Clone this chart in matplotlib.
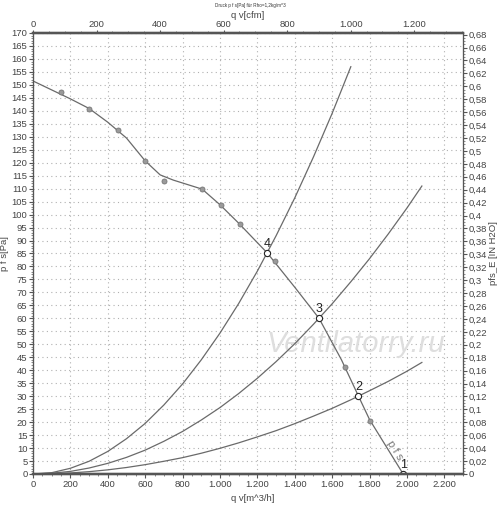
import numpy as np
import matplotlib.pyplot as plt
from matplotlib.ticker import MultipleLocator, FuncFormatter

plt.rcParams['font.family'] = ['Liberation Sans', 'DejaVu Sans']

# fan curve p f s [Pa] vs q v [m^3/h]
fan_q = [0, 200, 300, 400, 500, 600, 680, 750, 905, 1000, 1100, 1253, 1400, 1530, 1650, 1741, 1800, 1980]
fan_p = [151.5, 144.6, 140.9, 135.6, 129.5, 120.7, 115.3, 113.3, 109.8, 103.8, 96.7, 85.2, 72, 60, 44, 30, 21, 0]

# measured points on the fan curve
meas_q = [150, 302, 452, 600, 702, 905, 1003, 1105, 1296, 1668, 1800]
meas_p = [147.1, 140.8, 132.6, 120.7, 113.0, 109.8, 103.6, 96.4, 82.2, 41.3, 20.6]

# system curves
sys4_q = [0, 100, 200, 300, 400, 500, 600, 700, 800, 900, 1000, 1100, 1200, 1300, 1400, 1500, 1600, 1700]
sys4_p = [0, 0.5, 2.2, 4.9, 8.7, 13.6, 19.5, 26.6, 34.7, 44, 54.3, 65.7, 78.2, 91.8, 106.4, 122.2, 139, 157]
sys3_q = [0, 100, 200, 300, 400, 500, 600, 700, 800, 900, 1000, 1100, 1200, 1300, 1400, 1500, 1600, 1700, 1800, 1900, 2000, 2080]
sys3_p = [0, 0.3, 1.0, 2.3, 4.1, 6.4, 9.2, 12.6, 16.4, 20.8, 25.6, 31, 36.9, 43.3, 50.2, 57.7, 65.6, 74.1, 83, 92.5, 102.5, 111]
sys2_q = [0, 100, 200, 300, 400, 500, 600, 700, 800, 900, 1000, 1100, 1200, 1300, 1400, 1500, 1600, 1700, 1800, 1900, 2000, 2080]
sys2_p = [0, 0.1, 0.4, 0.9, 1.6, 2.5, 3.6, 4.9, 6.3, 8.0, 9.9, 12, 14.3, 16.7, 19.4, 22.3, 25.3, 28.6, 32.1, 35.7, 39.6, 43]

# operating points
op_labels = ['1', '2', '3', '4']
op_q = [1980, 1741, 1530, 1253]
op_p = [0, 30, 60, 85.2]

QMAX = 2300
PMAX = 170
CFM = 1.699      # m^3/h per cfm
INH2O = 249.089  # Pa per inch H2O

fig = plt.figure(figsize=(5, 5.05), dpi=100)
ax = fig.add_axes([0.066, 0.0614, 0.86, 0.8733])
ax.set_xlim(0, QMAX)
ax.set_ylim(0, PMAX)

line_c = '#6a6a6a'
txt_c = '#444444'
fs = 6.8

ax.text(1725, 50, 'Ventilatorry.ru', fontsize=21, style='italic', color='#dedede',
        ha='center', va='center', zorder=1)
ax.plot(fan_q, fan_p, color=line_c, lw=0.9, zorder=3)
ax.scatter(meas_q, meas_p, s=13, color='#9a9a9a', edgecolors='#777777', linewidths=0.6, zorder=4)
for q, p in [(sys4_q, sys4_p), (sys3_q, sys3_p), (sys2_q, sys2_p)]:
    ax.plot(q, p, color=line_c, lw=0.9, zorder=2)
ax.scatter(op_q, op_p, s=20, facecolor='white', edgecolors='#222222', linewidths=0.8, zorder=5)
for lab, q, p in zip(op_labels, op_q, op_p):
    ax.text(q, p + 1.3, lab, ha='center', va='bottom', fontsize=9, color='#222222', zorder=6)

ax.text(1935, 9, 'p f s', rotation=-58, fontsize=8, color='#777777', ha='center', va='center')

# grid
ax.xaxis.set_major_locator(MultipleLocator(200))
ax.yaxis.set_major_locator(MultipleLocator(5))
ax.yaxis.set_minor_locator(MultipleLocator(1))
ax.xaxis.set_minor_locator(MultipleLocator(50))
ax.grid(True, which='major', color='#b0b0b0', linestyle=(0, (1, 3)), lw=0.8)
ax.set_axisbelow(True)

ax.xaxis.set_major_formatter(FuncFormatter(lambda v, pos: f"{int(round(v)):,}".replace(',', '.')))
ax.tick_params(axis='both', which='major', labelsize=fs, length=3, pad=1, colors='#555555', labelcolor=txt_c)
ax.tick_params(axis='both', which='minor', length=1.5, colors='#777777')
for s in ax.spines.values():
    s.set_color('#555555')
ax.spines['bottom'].set_linewidth(1.6)
ax.spines['top'].set_linewidth(1.6)

ax.set_xlabel('q v[m^3/h]', fontsize=fs, color=txt_c)
ax.xaxis.set_label_coords(0.51, -0.045)
ax.set_ylabel('p f s[Pa]', fontsize=fs, color=txt_c)
ax.yaxis.set_label_coords(-0.055, 0.5)

# top axis in cfm
axt = ax.twiny()
axt.set_xlim(0, QMAX / CFM)
axt.xaxis.set_major_locator(MultipleLocator(200))
axt.xaxis.set_minor_locator(MultipleLocator(50))
axt.xaxis.set_major_formatter(FuncFormatter(lambda v, pos: f"{int(round(v)):,}".replace(',', '.')))
axt.tick_params(axis='x', which='major', labelsize=fs, length=2, pad=1, colors='#555555', labelcolor=txt_c)
axt.tick_params(axis='x', which='minor', length=1.5, colors='#777777')
axt.set_xlabel('q v[cfm]', fontsize=fs, color=txt_c)
axt.xaxis.set_label_coords(0.5, 1.034)

# right axis in inch H2O
axr = ax.twinx()
axr.set_ylim(0, PMAX / INH2O)
axr.yaxis.set_major_locator(MultipleLocator(0.02))
axr.yaxis.set_minor_locator(MultipleLocator(0.005))
axr.yaxis.set_major_formatter(FuncFormatter(lambda v, pos: (f"{v:.2f}".rstrip('0').rstrip('.')).replace('.', ',')))
axr.tick_params(axis='y', which='major', labelsize=fs, length=3, pad=1, colors='#555555', labelcolor=txt_c)
axr.tick_params(axis='y', which='minor', length=1.5, colors='#777777')
axr.set_ylabel('pfs_E [IN H2O]', fontsize=fs, color=txt_c)
axr.yaxis.set_label_coords(1.06, 0.5)
for a in (axt, axr):
    for s in a.spines.values():
        s.set_color('#555555')
    a.spines['bottom'].set_linewidth(1.6)
    a.spines['top'].set_linewidth(1.6)

fig.text(0.5, 0.995, 'Druck p f s[Pa] für Rho=1,2kg/m^3', fontsize=3.3, color='#333333', ha='center', va='top')

fig.savefig('out.png', dpi=100)
